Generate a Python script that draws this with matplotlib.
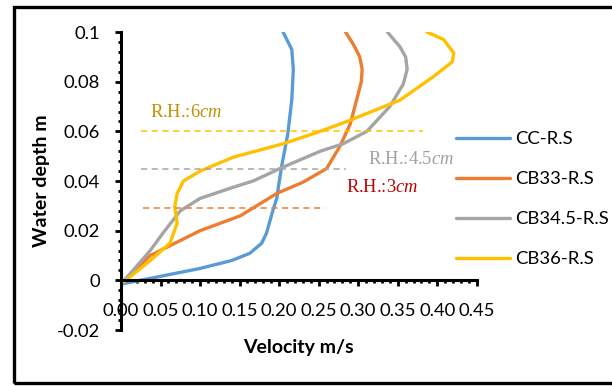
import numpy as np
import matplotlib
matplotlib.use("Agg")
from matplotlib import pyplot as plt
from matplotlib.ticker import MultipleLocator, FormatStrFormatter
from matplotlib.patches import Rectangle

plt.rcParams['font.family'] = ['Lato', 'DejaVu Sans']
plt.rcParams['mathtext.fontset'] = 'custom'
plt.rcParams['mathtext.it'] = 'Liberation Serif:italic'
plt.rcParams['mathtext.rm'] = 'Liberation Serif'

# velocity (m/s) vs water depth (m)
cc_v = [0.0, 0.037, 0.100, 0.140, 0.163, 0.178, 0.184, 0.192, 0.197, 0.203, 0.211, 0.216, 0.218, 0.216, 0.205]
cc_d = [-0.0015, 0.0008, 0.0048, 0.0080, 0.0109, 0.0150, 0.0190, 0.0280, 0.0330, 0.0456, 0.0590, 0.0726, 0.0850, 0.0930, 0.1]

cb33_v = [0.0, 0.037, 0.100, 0.151, 0.197, 0.230, 0.260, 0.277, 0.290, 0.298, 0.304, 0.305, 0.302, 0.294, 0.284]
cb33_d = [-0.0015, 0.010, 0.020, 0.026, 0.035, 0.0395, 0.045, 0.054, 0.063, 0.0726, 0.080, 0.085, 0.090, 0.095, 0.1]

cb345_v = [0.0, 0.037, 0.053, 0.075, 0.100, 0.142, 0.167, 0.205, 0.252, 0.281, 0.311, 0.340, 0.357, 0.362, 0.360, 0.353, 0.337]
cb345_d = [-0.0015, 0.012, 0.019, 0.028, 0.033, 0.0375, 0.040, 0.0456, 0.052, 0.055, 0.060, 0.070, 0.079, 0.085, 0.090, 0.094, 0.1]

cb36_v = [0.0, 0.037, 0.062, 0.071, 0.068, 0.071, 0.079, 0.100, 0.142, 0.205, 0.252, 0.290, 0.353, 0.395, 0.419, 0.421, 0.408, 0.387]
cb36_d = [-0.0015, 0.008, 0.015, 0.023, 0.0295, 0.035, 0.040, 0.044, 0.0496, 0.055, 0.060, 0.0645, 0.0726, 0.082, 0.088, 0.0915, 0.097, 0.1]

labels = ['CC-R.S', 'CB33-R.S', 'CB34.5-R.S', 'CB36-R.S']
colors = ['#5B9BD5', '#ED7D31', '#A5A5A5', '#FFC000']

# roughness height marks
rh_depth = [0.029, 0.0448, 0.060]
rh_start = [0.028, 0.025, 0.025]
rh_end = [0.258, 0.284, 0.382]
rh_text = [r'R.H.:3$\mathit{cm}$', r'R.H.:4.5$\mathit{cm}$', r'R.H.:6$\mathit{cm}$']
rh_line_col = ['#ED7D31', '#A5A5A5', '#FFC000']
rh_text_col = ['#C00000', '#A0A0A0', '#BF9000']
rh_text_v = [0.284, 0.313, 0.037]
rh_text_d = [0.0375, 0.0488, 0.0677]

fig = plt.figure(figsize=(6.12, 3.86), dpi=100)
ax = fig.add_axes([0.1977, 0.145, 0.5813, 0.772])

series = [(cc_v, cc_d), (cb33_v, cb33_d), (cb345_v, cb345_d), (cb36_v, cb36_d)]
for (v, d), lab, col in zip(series, labels, colors):
    ax.plot(v, d, color=col, lw=2.4, label=lab, solid_capstyle='round', solid_joinstyle='round')

for i in range(3):
    ax.plot([rh_start[i], rh_end[i]], [rh_depth[i], rh_depth[i]], ls=(0, (4, 3)),
            color=rh_line_col[i], lw=1.1)
    ax.text(rh_text_v[i], rh_text_d[i], rh_text[i], color=rh_text_col[i],
            fontsize=13.3, family='Liberation Serif', va='center', ha='left')

ax.set_xlim(0, 0.45)
ax.set_ylim(-0.02, 0.1)
ax.spines['top'].set_visible(False)
ax.spines['right'].set_visible(False)
ax.spines['bottom'].set_position(('data', 0))
ax.spines['left'].set_linewidth(2.2)
ax.spines['bottom'].set_linewidth(2.2)
ax.xaxis.set_major_locator(MultipleLocator(0.05))
ax.xaxis.set_minor_locator(MultipleLocator(0.01))
ax.yaxis.set_minor_locator(MultipleLocator(0.004))
ax.xaxis.set_major_formatter(FormatStrFormatter('%.2f'))
ax.set_yticks([-0.02, 0, 0.02, 0.04, 0.06, 0.08, 0.1])
ax.set_yticklabels(['-0.02', '0', '0.02', '0.04', '0.06', '0.08', '0.1'])
ax.tick_params(which='major', length=4, width=2, labelsize=13.3)
ax.tick_params(which='minor', length=2.5, width=2)
ax.tick_params(axis='x', which='major', pad=12)
ax.tick_params(axis='y', which='major', pad=11)

fig.text(0.487, 1 - 347 / 386, 'Velocity m/s', ha='center', va='center',
         fontsize=14, fontweight='bold')
fig.text(0.068, 1 - 181 / 386, 'Water depth m', ha='center', va='center',
         rotation=90, fontsize=14, fontweight='bold')

fig.legend(loc='center left', bbox_to_anchor=(0.745, 1 - 199 / 386), frameon=False,
           fontsize=13.3, handlelength=2.9, handletextpad=0.3, labelspacing=1.3,
           borderpad=0, borderaxespad=0)

# outer frame
fig.add_artist(Rectangle((14 / 612, 3 / 386), 1.0, 1 - 10 / 386, transform=fig.transFigure,
                         fill=False, lw=2.4, edgecolor='black', clip_on=False))

fig.savefig('out.png', dpi=100)
